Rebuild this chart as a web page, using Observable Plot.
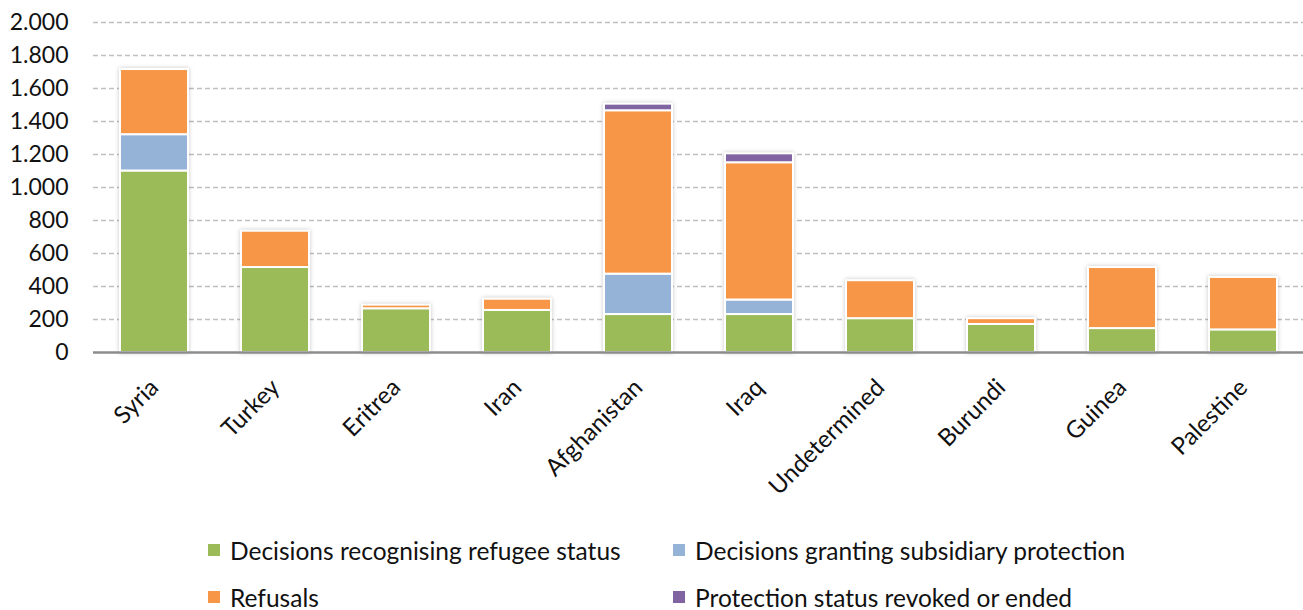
<!DOCTYPE html>
<html>
<head>
<meta charset="utf-8">
<script src="https://cdn.jsdelivr.net/npm/d3@7"></script>
<script src="https://cdn.jsdelivr.net/npm/@observablehq/plot@0.6"></script>
<style>
  html, body { margin: 0; padding: 0; background: #fff; }
  body { width: 1303px; height: 610px; position: relative; overflow: hidden; font-family: Lato, "Open Sans", sans-serif; }
  #chart { position: absolute; left: 0; top: 0; }
  #legend { position: absolute; left: 0; top: 0; width: 1303px; height: 610px; pointer-events: none; }
  .item { position: absolute; display: flex; align-items: center; font-size: 24.5px; color: #111; white-space: nowrap; }
  .sw { width: 12px; height: 12px; margin-right: 10px; }
  g[aria-label="bar"] { filter: drop-shadow(0 0 2px rgba(0,0,0,0.22)); }
</style>
</head>
<body>
<div id="chart"></div>
<div id="legend"></div>
<script>
const countries = ["Syria", "Turkey", "Eritrea", "Iran", "Afghanistan", "Iraq", "Undetermined", "Burundi", "Guinea", "Palestine"];
const seriesNames = [
  "Decisions recognising refugee status",
  "Decisions granting subsidiary protection",
  "Refusals",
  "Protection status revoked or ended"
];
const seriesColors = ["#9BBB59", "#95B3D7", "#F79646", "#8064A2"];
const refugee    = [1100, 515, 265, 255, 230, 230, 205, 170, 145, 137];
const subsidiary = [220,    0,   0,   0, 245,  88,   0,   0,   0,   0];
const refusals   = [395,  220,  22,  68, 990, 832, 230,  35, 370, 318];
const revoked    = [0,      0,   0,   0,  40,  54,   0,   0,   0,   0];
const yTicks = [0, 200, 400, 600, 800, 1000, 1200, 1400, 1600, 1800, 2000];

const seriesValues = [refugee, subsidiary, refusals, revoked];
const rows = [];
countries.forEach((c, i) => {
  seriesNames.forEach((s, j) => {
    rows.push({country: c, series: s, order: j, value: seriesValues[j][i]});
  });
});

const fmt = d => d3.format(",")(d).replace(/,/g, ".");

const chart = Plot.plot({
  width: 1303,
  height: 525,
  marginTop: 22,
  marginBottom: 173,
  marginLeft: 93,
  marginRight: 0,
  style: { fontFamily: "Lato, 'Open Sans', sans-serif", fontSize: "24px", color: "#111", background: "#fff" },
  x: { domain: countries, paddingInner: 0.44, paddingOuter: 0.22, label: null },
  y: { domain: [0, 2000], label: null },
  color: { domain: seriesNames, range: seriesColors },
  marks: [
    Plot.ruleY(yTicks.filter(d => d > 0), { stroke: "#bfbfbf", strokeWidth: 1.3, strokeDasharray: "5,3" }),
    Plot.barY(rows, Plot.stackY({
      x: "country", y: "value", fill: "series", order: seriesNames,
      stroke: "#fff", strokeWidth: 2
    })),
    Plot.ruleY([0], { stroke: "#8c8c8c", strokeWidth: 2.5 }),
    Plot.axisY({ ticks: yTicks, tickFormat: fmt, tickSize: 0, tickPadding: 25, fontSize: 23, label: null }),
    Plot.axisX({ tickSize: 0, tickRotate: -45, tickPadding: 31, fontSize: 24, label: null })
  ]
});
document.getElementById("chart").appendChild(chart);

const legendPos = [[208, 550], [673, 550], [208, 597], [673, 597]];
const legend = document.getElementById("legend");
seriesNames.forEach((s, i) => {
  const item = document.createElement("div");
  item.className = "item";
  item.style.left = legendPos[i][0] + "px";
  item.style.top = (legendPos[i][1] - 15) + "px";
  item.style.height = "30px";
  const sw = document.createElement("span");
  sw.className = "sw";
  sw.style.background = seriesColors[i];
  const t = document.createElement("span");
  t.textContent = s;
  item.appendChild(sw);
  item.appendChild(t);
  legend.appendChild(item);
});
</script>
</body>
</html>
